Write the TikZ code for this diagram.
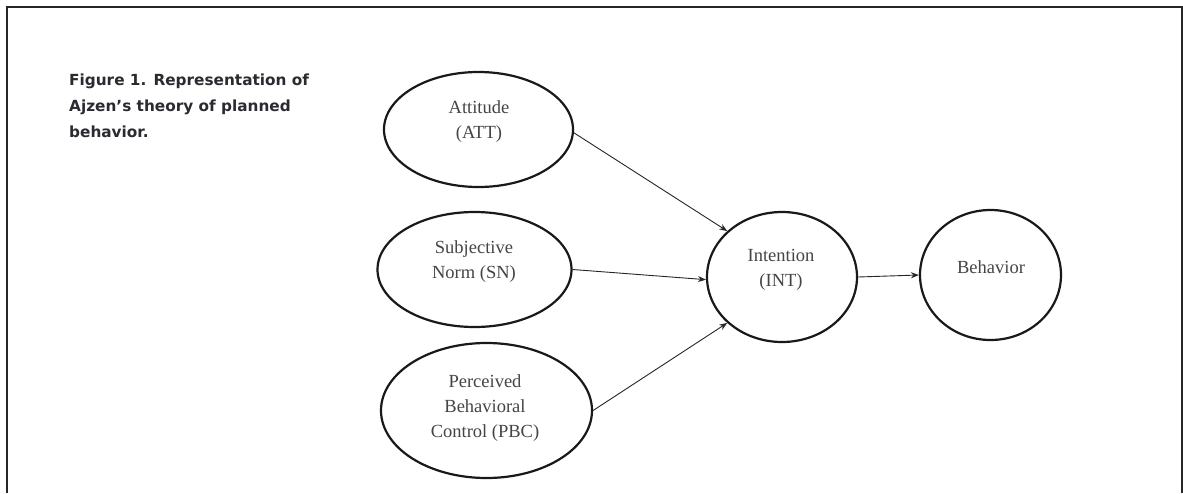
\documentclass[tikz,border=0pt]{standalone}
\usepackage{fontspec}
\setmainfont{Liberation Serif}
\newfontfamily\capfont{DejaVu Sans}
\usetikzlibrary{arrows.meta,shapes.geometric}
\definecolor{txtgray}{HTML}{454545}
\definecolor{capgray}{HTML}{2A2A30}
\tikzset{
  ell/.style={ellipse, draw=black!90, line width=2.2pt, inner sep=0pt},
  lbl/.style={align=center, text=txtgray, font=\fontsize{18.5}{25}\selectfont},
  arr/.style={draw=black!85, line width=0.9pt, -{Stealth[length=8pt,width=6pt]}},
}
\begin{document}
\begin{tikzpicture}[x=1pt,y=-1pt]
\useasboundingbox (0,0) rectangle (1183,493);
\fill[white] (0,0) rectangle (1183,493);
% frame (open at bottom)
\draw[line width=2pt, black!85] (6.5,493) -- (6.5,7) -- (1181.5,7) -- (1181.5,493);
% caption
\node[anchor=north west, align=left, text=capgray, inner sep=0pt,
      font=\capfont\bfseries\fontsize{15.3}{26}\selectfont] (cap) at (69,74)
  {Figure 1. Representation of\\Ajzen’s theory of planned\\behavior.};
% ellipses
\node[ell, minimum width=189pt, minimum height=115pt] (att) at (478.5,129.5) {};
\node[ell, minimum width=194pt, minimum height=115pt] (sn) at (474.5,269.5) {};
\node[ell, minimum width=211pt, minimum height=135pt] (pbc) at (486.5,410.5) {};
\node[ell, minimum width=150pt, minimum height=130pt] (int) at (782,277) {};
\node[ell, minimum width=141pt, minimum height=130pt] (beh) at (990.5,275) {};
% labels
\node[lbl] (attl) at (479,122) {Attitude\\(ATT)};
\node[lbl] (snl) at (474,262) {Subjective\\Norm (SN)};
\node[lbl] (pbcl) at (485,408) {Perceived\\Behavioral\\Control (PBC)};
\node[lbl] (intl) at (781,270) {Intention\\(INT)};
\node[lbl] (behl) at (991,267) {Behavior};
% arrows
\draw[arr] (att.-2) -- (int.140);
\draw[arr] (sn.east) -- (int.182);
\draw[arr] (pbc.east) -- (int.220);
\draw[arr] (int.east) -- (beh.west);
\end{tikzpicture}
\end{document}
